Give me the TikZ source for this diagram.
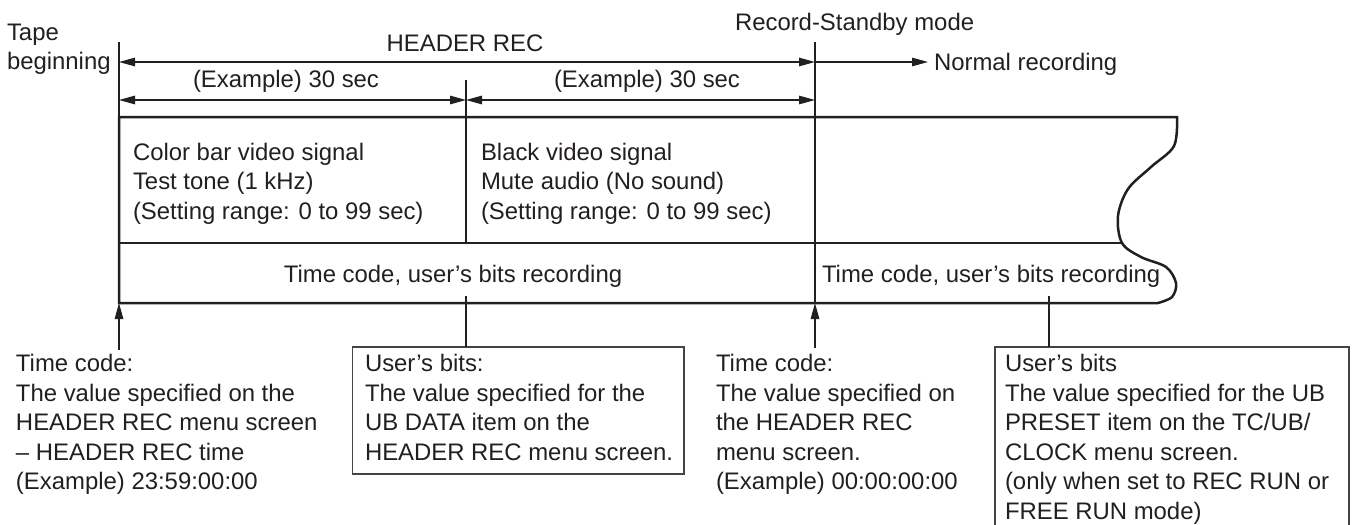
\documentclass[tikz,border=0pt]{standalone}
\usepackage{fontspec}
\setmainfont{Liberation Sans}
\usetikzlibrary{arrows.meta}
\definecolor{txt}{HTML}{231F20}
\definecolor{boxc}{HTML}{444444}
\newcommand\mlines[1]{\vtop{\halign{##\hfil\cr#1\crcr}}}
\begin{document}
\begin{tikzpicture}[x=1pt,y=-1pt,
  lbl/.style={inner sep=0pt, outer sep=0pt, font=\fontsize{23.9}{29.5}\selectfont, text=txt, anchor=base west},
  thin/.style={line width=1.3pt, draw=txt},
  tape/.style={line width=2.5pt, draw=txt, line join=miter},
  dim/.style={thin, {Triangle[length=16pt,width=8.5pt]}-{Triangle[length=16pt,width=8.5pt]}},
  fwd/.style={thin, -{Triangle[length=16pt,width=8.5pt]}},
  infobox/.style={line width=1.3pt, draw=boxc}]
\useasboundingbox (0,0) rectangle (1353,525);

% coordinates
\coordinate (vLt) at (119,42);
\coordinate (tl) at (119,117);
\coordinate (bl) at (119,303);
\coordinate (hL) at (119,62);
\coordinate (hR) at (815,62);
\coordinate (nr) at (928,62);
\coordinate (aL) at (119,100);
\coordinate (aM) at (466,100);
\coordinate (aR) at (815,100);
\coordinate (mTop) at (466,80);
\coordinate (mBot) at (466,243);
\coordinate (sTop) at (815,42);
\coordinate (sBot) at (815,303);
\coordinate (midL) at (119,243);
\coordinate (midR) at (1122,243);
\coordinate (upA) at (119,350);
\coordinate (upB) at (815,348);
\coordinate (ubA) at (466,296);
\coordinate (ubB) at (1049,296);

% tape outline
\draw[tape] (1158,303) -- (bl) -- (tl) -- (1177,117)
  -- plot[smooth, tension=0.55] coordinates {(1177,117) (1174,146) (1151,167) (1128,189) (1118,216) (1122,243) (1141,257) (1166,267) (1176,283) (1172,297) (1158,303)};
\draw[thin] (midL) -- (midR);
\draw[thin] (vLt) -- (tl);
\draw[thin] (mTop) -- (mBot);
\draw[thin] (sTop) -- (sBot);

% dimension arrows
\draw[dim] (hL) -- (hR);
\draw[fwd] (hR) -- (nr);
\draw[dim] (aL) -- (aM);
\draw[dim] (aM) -- (aR);

% top labels
\node[lbl] (tape) at (7,40) {\mlines{Tape\cr beginning}};
\node[lbl, anchor=base] (hdr) at (465,51) {HEADER REC};
\node[lbl, anchor=base] (ex1) at (286,87) {(Example) 30 sec};
\node[lbl, anchor=base] (ex2) at (647,87) {(Example) 30 sec};
\node[lbl] (rsm) at (735,30) {Record-Standby mode};
\node[lbl] (norm) at (934,70) {Normal recording};

% tape contents
\node[lbl] (cb) at (133,160) {\mlines{Color bar video signal\cr Test tone (1 kHz)\cr (Setting range: 0 to 99 sec)}};
\node[lbl] (bk) at (481,160) {\mlines{Black video signal\cr Mute audio (No sound)\cr (Setting range: 0 to 99 sec)}};
\node[lbl, anchor=base] (tc1) at (453,282) {Time code, user’s bits recording};
\node[lbl] (tc2) at (822,282) {Time code, user’s bits recording};

% bottom annotations
\node[lbl] (ann1) at (16,371.5) {\mlines{Time code:\cr The value specified on the\cr HEADER REC menu screen\cr – HEADER REC time\cr (Example) 23:59:00:00}};
\draw[infobox] (352.5,347) rectangle (684,474);
\node[lbl] (ann2) at (365,371.5) {\mlines{User’s bits:\cr The value specified for the\cr UB DATA item on the\cr HEADER REC menu screen.}};
\node[lbl] (ann3) at (716,371.5) {\mlines{Time code:\cr The value specified on\cr the HEADER REC\cr menu screen.\cr (Example) 00:00:00:00}};
\draw[infobox] (995,526) -- (995,347) -- (1349,347) -- (1349,526);
\node[lbl] (ann4) at (1005,371.5) {\mlines{User’s bits\cr The value specified for the UB\cr PRESET item on the TC/UB/\cr CLOCK menu screen.\cr (only when set to REC RUN or\cr FREE RUN mode)}};

% connectors
\coordinate (b2top) at (466,347);
\coordinate (b4top) at (1049,347);
\draw[fwd] (upA) -- (bl);
\draw[fwd] (upB) -- (sBot);
\draw[thin] (ubA) -- (b2top);
\draw[thin] (ubB) -- (b4top);
\end{tikzpicture}
\end{document}
